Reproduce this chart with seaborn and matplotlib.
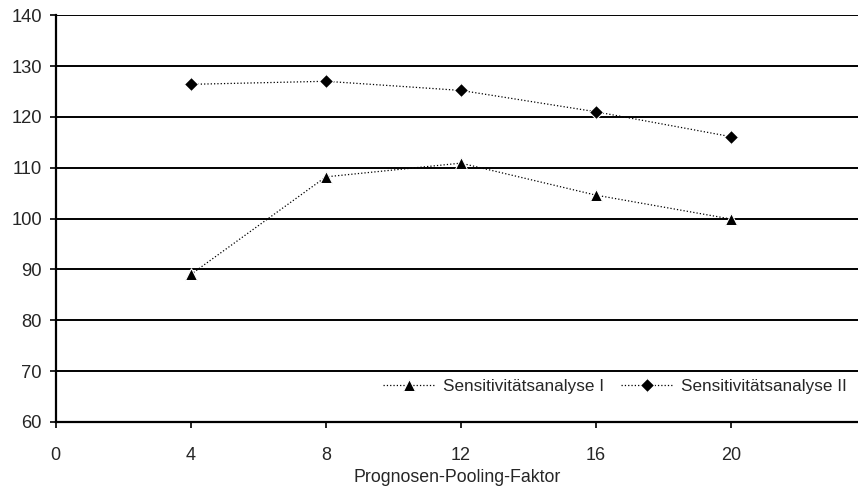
import seaborn as sns
import matplotlib.pyplot as plt
import pandas as pd

faktor = [4, 8, 12, 16, 20]
sens_1 = [89.0, 108.2, 110.9, 104.6, 99.9]
sens_2 = [126.4, 127.0, 125.2, 121.0, 116.1]

sns.set_style("white")
plt.rcParams['font.family'] = ['Liberation Sans', 'DejaVu Sans']

df = pd.DataFrame({'x': faktor, 's1': sens_1, 's2': sens_2})

fig = plt.figure(figsize=(8.58, 4.9), dpi=100)
ax = fig.add_axes([0.065, 0.139, 0.935, 0.830])

sns.lineplot(data=df, x='x', y='s1', ax=ax, color='black', marker='^', markersize=9,
             linestyle=':', linewidth=0.9, label='Sensitivitätsanalyse I')
sns.lineplot(data=df, x='x', y='s2', ax=ax, color='black', marker='D', markersize=7.5,
             linestyle=':', linewidth=0.9, label='Sensitivitätsanalyse II')

ax.set_xlim(0, 23.76)
ax.set_ylim(60, 140)
ax.set_xticks([0, 4, 8, 12, 16, 20])
ax.set_yticks(range(60, 141, 10))
ax.yaxis.grid(True, color='black', linewidth=1.4)
ax.set_axisbelow(True)

for s in ['top', 'right']:
    ax.spines[s].set_visible(False)
for s in ['left', 'bottom']:
    ax.spines[s].set_color('black')
    ax.spines[s].set_linewidth(1.6)

ax.tick_params(axis='y', direction='out', length=4, width=1.2, color='black',
               labelsize=13.2, pad=6)
ax.tick_params(axis='x', direction='out', length=4, width=1.2, color='black',
               labelsize=13, pad=14)
ax.tick_params(left=True, bottom=True)

ax.set_xlabel('Prognosen-Pooling-Faktor', fontsize=12.8, labelpad=4)
ax.set_ylabel('')

ax.legend(loc='lower right', bbox_to_anchor=(1.005, 0.03), ncol=2, frameon=False,
          fontsize=12.3, handlelength=3.0, columnspacing=1.0, handletextpad=0.5)

fig.savefig('out.png', dpi=100)
